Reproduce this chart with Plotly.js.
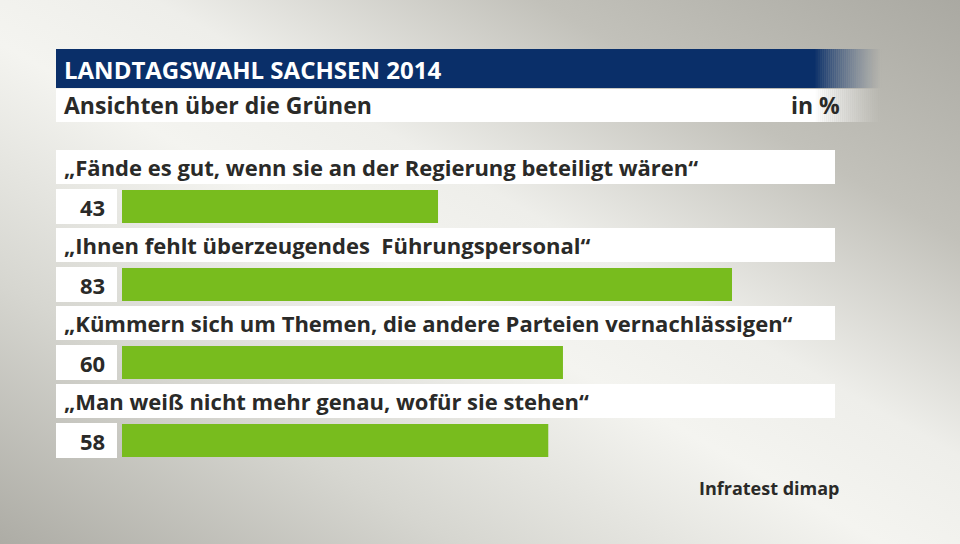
<!DOCTYPE html>
<html><head><meta charset="utf-8">
<script src="https://cdn.plot.ly/plotly-3.0.1.min.js"></script>
<style>
html,body{margin:0;padding:0;width:960px;height:544px;overflow:hidden;}
body{background:linear-gradient(to top right,#adaca5 0%,#d6d6d0 24%,#f4f4f0 46%,#eeeeea 58%,#c2c1ba 78%,#aaa9a2 100%);}
#chart{width:960px;height:544px;}
</style></head>
<body><div id="chart"></div>
<script>
const categories = [
  "„Fände es gut, wenn sie an der Regierung beteiligt wären“",
  "„Ihnen fehlt überzeugendes  Führungspersonal“",
  "„Kümmern sich um Themen, die andere Parteien vernachlässigen“",
  "„Man weiß nicht mehr genau, wofür sie stehen“"
];
const values = [43, 83, 60, 58];
const titleText = "LANDTAGSWAHL SACHSEN 2014";
const subtitleText = "Ansichten über die Grünen";
const unitText = "in %";
const sourceText = "Infratest dimap";

const W = 960, H = 544;
const pos = categories.map((c, i) => i);
const FONT = "Open Sans, Noto Sans, sans-serif";
const TXT = "#2a2a28";

const shapes = [];
const annotations = [];

const fadeStart = 815, fadeEnd = 882, steps = 34;
function band(y0, y1, color) {
  shapes.push({type:'rect', xref:'paper', yref:'paper', x0:56/W, x1:fadeStart/W,
    y0:1-y1/H, y1:1-y0/H, fillcolor:color, line:{width:0}, layer:'below'});
  for (let k = 0; k < steps; k++) {
    const a = fadeStart + (fadeEnd-fadeStart)*k/steps;
    const b = fadeStart + (fadeEnd-fadeStart)*(k+1)/steps;
    const t = (k+0.5)/steps;
    shapes.push({type:'rect', xref:'paper', yref:'paper', x0:a/W, x1:b/W,
      y0:1-y1/H, y1:1-y0/H, fillcolor:color, opacity:Math.pow(1-t,1.3), line:{width:0}, layer:'below'});
  }
}
band(49, 88, '#0a2f69');
band(89, 122, '#ffffff');

annotations.push({xref:'paper', yref:'paper', x:62/W, y:1-69/H, xanchor:'left', yanchor:'middle',
  text:'<b>'+titleText+'</b>', showarrow:false, font:{family:FONT, size:24, color:'#ffffff'}});
annotations.push({xref:'paper', yref:'paper', x:62/W, y:1-105/H, xanchor:'left', yanchor:'middle',
  text:'<b>'+subtitleText+'</b>', showarrow:false, font:{family:FONT, size:23, color:TXT}});
annotations.push({xref:'paper', yref:'paper', x:842/W, y:1-105/H, xanchor:'right', yanchor:'middle',
  text:'<b>'+unitText+'</b>', showarrow:false, font:{family:FONT, size:23, color:TXT}});
annotations.push({xref:'paper', yref:'paper', x:842/W, y:1-488/H, xanchor:'right', yanchor:'middle',
  text:'<b>'+sourceText+'</b>', showarrow:false, font:{family:FONT, size:18, color:TXT}});

categories.forEach((c, i) => {
  shapes.push({type:'rect', xref:'paper', yref:'y', x0:56/W, x1:835/W, y0:i-0.724, y1:i-0.288,
    fillcolor:'#ffffff', line:{width:0}, layer:'below'});
  shapes.push({type:'rect', xref:'paper', yref:'y', x0:56/W, x1:117/W, y0:i-0.224, y1:i+0.224,
    fillcolor:'#ffffff', line:{width:0}, layer:'below'});
  annotations.push({xref:'paper', yref:'y', x:62/W, y:i-0.506, xanchor:'left', yanchor:'middle',
    text:'<b>'+c+'</b>', showarrow:false, font:{family:FONT, size:22, color:TXT}});
  annotations.push({xref:'paper', yref:'y', x:92/W, y:i, xanchor:'center', yanchor:'middle',
    text:'<b>'+values[i]+'</b>', showarrow:false, font:{family:FONT, size:22, color:TXT}});
});

const pxPerUnit = (732-122)/83;
const xr = [-122/pxPerUnit, (W-122)/pxPerUnit];
const yr = [(H-206.5)/78, -206.5/78];

Plotly.newPlot('chart', [{
  type:'bar', orientation:'h', x:values, y:pos, width:0.423,
  marker:{color:'#78bc1e', line:{width:0}}, hoverinfo:'none', textposition:'none'
}], {
  width:W, height:H, margin:{l:0,r:0,t:0,b:0},
  paper_bgcolor:'rgba(0,0,0,0)', plot_bgcolor:'rgba(0,0,0,0)',
  xaxis:{range:xr, visible:false, fixedrange:true},
  yaxis:{range:yr, visible:false, fixedrange:true},
  showlegend:false, shapes:shapes, annotations:annotations
}, {displayModeBar:false, staticPlot:true});
</script></body></html>
